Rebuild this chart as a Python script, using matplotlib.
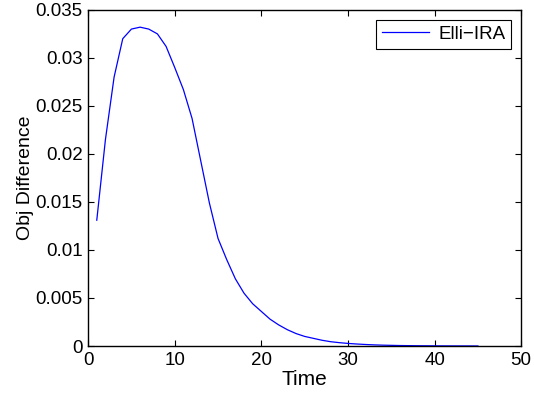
import matplotlib
matplotlib.use('Agg')
import matplotlib.pyplot as plt

time = list(range(1, 46))
obj_diff = [0.0131, 0.0215, 0.0280, 0.0320, 0.0330, 0.0332, 0.0330, 0.0325, 0.0312, 0.0290,
            0.0267, 0.0237, 0.0193, 0.0149, 0.0112, 0.0090, 0.0070, 0.0055, 0.0044, 0.0036,
            0.0028, 0.0022, 0.0017, 0.0013, 0.0010, 0.0008, 0.0006, 0.00045, 0.00035, 0.00027,
            0.00021, 0.00016, 0.00012, 0.00009, 0.00007, 0.00005, 0.00004, 0.00003, 0.000025, 0.00002,
            0.000015, 0.000012, 0.00001, 0.000008, 0.000006]
zero_time = [0, 50]
zero_vals = [0, 0]

plt.rcParams['font.family'] = ['Liberation Sans', 'DejaVu Sans']
plt.rcParams['font.size'] = 13.5

fig = plt.figure(figsize=(5.34, 3.95), dpi=100)
ax = fig.add_axes([0.165, 0.124, 0.811, 0.851])
ax.plot(zero_time, zero_vals, color='r', linestyle='--', linewidth=0.6)
ax.plot(time, obj_diff, color='b', linewidth=0.9, label='Elli\u2212IRA')
ax.set_xlim(0, 50)
ax.set_ylim(0, 0.035)
ax.set_xticks([0, 10, 20, 30, 40, 50])
ax.set_yticks([0, 0.005, 0.01, 0.015, 0.02, 0.025, 0.03, 0.035])
ax.set_yticklabels(['0', '0.005', '0.01', '0.015', '0.02', '0.025', '0.03', '0.035'])
ax.tick_params(direction='in', top=True, right=True, length=4, width=0.8, pad=4)
for s in ax.spines.values():
    s.set_linewidth(1.0)
ax.set_xlabel('Time', fontsize=15, labelpad=1)
ax.set_ylabel('Obj Difference', fontsize=14, labelpad=1)
leg = ax.legend(loc='upper right', fancybox=False, edgecolor='k', framealpha=1,
                borderpad=0.3, handlelength=2.5, handletextpad=0.5, borderaxespad=0.55)
leg.get_frame().set_linewidth(0.8)
fig.savefig('out.png', dpi=100)
